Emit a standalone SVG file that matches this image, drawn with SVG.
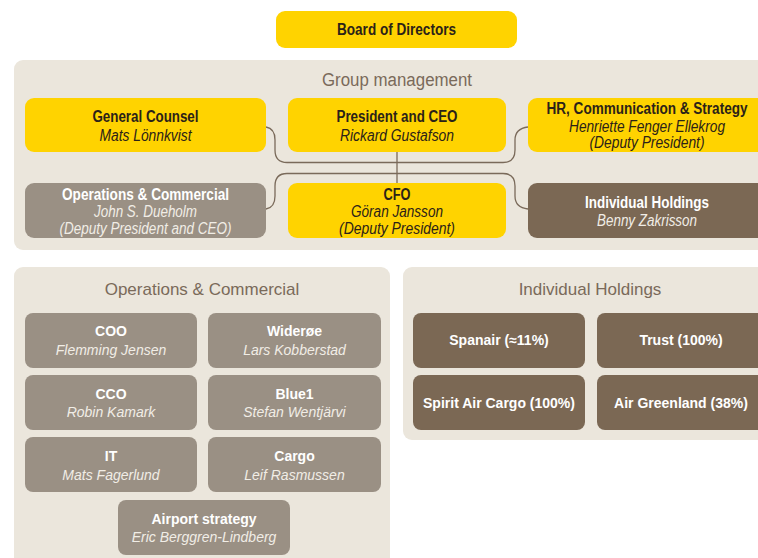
<svg xmlns="http://www.w3.org/2000/svg" width="758" height="558" viewBox="0 0 758 558">
<style>
.panel{fill:#EBE6DC}
.y{fill:#FFD300}
.g{fill:#9A9084}
.d{fill:#7B6854}
.ptitle{font-family:"Liberation Sans",Arial,sans-serif;font-size:18px;fill:#7A6A5A;text-anchor:middle}
.ptitle2{font-family:"Liberation Sans",Arial,sans-serif;font-size:17px;fill:#7A6A5A;text-anchor:middle}
.cb{font-family:"Liberation Sans",Arial,sans-serif;font-size:16px;font-weight:bold;text-anchor:middle}
.ci{font-family:"Liberation Sans",Arial,sans-serif;font-size:16px;font-style:italic;text-anchor:middle}
.nb{font-family:"Liberation Sans",Arial,sans-serif;font-size:14px;font-weight:bold;text-anchor:middle}
.ni{font-family:"Liberation Sans",Arial,sans-serif;font-size:14px;font-style:italic;text-anchor:middle}
.dk{fill:#2B2218}
.wt{fill:#FFFFFF}
.lt{fill:#F1EDE6}
.conn{fill:none;stroke:#7A6A5A;stroke-width:1.3}
</style>
<rect width="758" height="558" fill="#FFFFFF"/>
<g id="board">
<rect class="y" x="276" y="11" width="241" height="37" rx="9"/>
<text class="cb dk" x="396.5" y="34.5" textLength="119" lengthAdjust="spacingAndGlyphs">Board of Directors</text>
</g>
<g id="group-management">
<rect class="panel" x="14" y="60" width="770" height="190" rx="9"/>
<text class="ptitle" x="397" y="86" textLength="150" lengthAdjust="spacingAndGlyphs">Group management</text>
</g>
<g id="connectors">
<path class="conn" d="M266,127 C272,128 275,132 275,140 L275,150 Q275,162.5 287,162.5 L503,162.5 Q515,162.5 515,150 L515,140 C515,132 519,128 528,127"/>
<path class="conn" d="M266,209 C272,208 275,204 275,196 L275,186 Q275,173.5 287,173.5 L503,173.5 Q515,173.5 515,186 L515,196 C515,204 519,208 528,209"/>
<path class="conn" d="M397,152 V183"/>
</g>
<g id="general-counsel">
<rect class="y" x="25" y="98" width="241" height="54" rx="9"/>
<text class="cb dk" x="145.5" y="121.5" textLength="106" lengthAdjust="spacingAndGlyphs">General Counsel</text>
<text class="ci dk" x="145.5" y="140.5" textLength="92" lengthAdjust="spacingAndGlyphs">Mats Lönnkvist</text>
</g>
<g id="president-ceo">
<rect class="y" x="288" y="98" width="218" height="54" rx="9"/>
<text class="cb dk" x="397" y="121.5" textLength="121" lengthAdjust="spacingAndGlyphs">President and CEO</text>
<text class="ci dk" x="397" y="140.5" textLength="114" lengthAdjust="spacingAndGlyphs">Rickard Gustafson</text>
</g>
<g id="hr">
<rect class="y" x="528" y="98" width="240" height="54" rx="9"/>
<text class="cb dk" x="647" y="113.5" textLength="201" lengthAdjust="spacingAndGlyphs">HR, Communication &amp; Strategy</text>
<text class="ci dk" x="647" y="131.5" textLength="156" lengthAdjust="spacingAndGlyphs">Henriette Fenger Ellekrog</text>
<text class="ci dk" x="647" y="147.5" textLength="115" lengthAdjust="spacingAndGlyphs">(Deputy President)</text>
</g>
<g id="ops-commercial-head">
<rect class="g" x="25" y="183" width="241" height="55" rx="9"/>
<text class="cb wt" x="145.5" y="199.5" textLength="167" lengthAdjust="spacingAndGlyphs">Operations &amp; Commercial</text>
<text class="ci lt" x="145.5" y="216.5" textLength="103" lengthAdjust="spacingAndGlyphs">John S. Dueholm</text>
<text class="ci lt" x="145.5" y="233.5" textLength="172" lengthAdjust="spacingAndGlyphs">(Deputy President and CEO)</text>
</g>
<g id="cfo">
<rect class="y" x="288" y="183" width="218" height="55" rx="9"/>
<text class="cb dk" x="397" y="199.5" textLength="27" lengthAdjust="spacingAndGlyphs">CFO</text>
<text class="ci dk" x="397" y="216.5" textLength="92" lengthAdjust="spacingAndGlyphs">Göran Jansson</text>
<text class="ci dk" x="397" y="233.5" textLength="116" lengthAdjust="spacingAndGlyphs">(Deputy President)</text>
</g>
<g id="individual-holdings-head">
<rect class="d" x="528" y="183" width="240" height="55" rx="9"/>
<text class="cb wt" x="647" y="207.5" textLength="124" lengthAdjust="spacingAndGlyphs">Individual Holdings</text>
<text class="ci lt" x="647" y="225.5" textLength="100" lengthAdjust="spacingAndGlyphs">Benny Zakrisson</text>
</g>
<g id="ops-panel">
<rect class="panel" x="14" y="267" width="376" height="300" rx="9"/>
<text class="ptitle2" x="202" y="295">Operations &amp; Commercial</text>
</g>
<g id="coo">
<rect class="g" x="25" y="313" width="172" height="55" rx="8"/>
<text class="nb wt" x="111" y="336">COO</text>
<text class="ni lt" x="111" y="355">Flemming Jensen</text>
</g>
<g id="wideroe">
<rect class="g" x="208" y="313" width="173" height="55" rx="8"/>
<text class="nb wt" x="294.5" y="336">Widerøe</text>
<text class="ni lt" x="294.5" y="355">Lars Kobberstad</text>
</g>
<g id="cco">
<rect class="g" x="25" y="375" width="172" height="55" rx="8"/>
<text class="nb wt" x="111" y="399">CCO</text>
<text class="ni lt" x="111" y="417">Robin Kamark</text>
</g>
<g id="blue1">
<rect class="g" x="208" y="375" width="173" height="55" rx="8"/>
<text class="nb wt" x="294.5" y="399">Blue1</text>
<text class="ni lt" x="294.5" y="417">Stefan Wentjärvi</text>
</g>
<g id="it">
<rect class="g" x="25" y="437" width="172" height="55" rx="8"/>
<text class="nb wt" x="111" y="461">IT</text>
<text class="ni lt" x="111" y="480">Mats Fagerlund</text>
</g>
<g id="cargo">
<rect class="g" x="208" y="437" width="173" height="55" rx="8"/>
<text class="nb wt" x="294.5" y="461">Cargo</text>
<text class="ni lt" x="294.5" y="480">Leif Rasmussen</text>
</g>
<g id="airport-strategy">
<rect class="g" x="118" y="500" width="172" height="55" rx="8"/>
<text class="nb wt" x="204" y="524">Airport strategy</text>
<text class="ni lt" x="204" y="542">Eric Berggren-Lindberg</text>
</g>
<g id="ih-panel">
<rect class="panel" x="403" y="267" width="380" height="173" rx="9"/>
<text class="ptitle2" x="590" y="295">Individual Holdings</text>
</g>
<g id="spanair">
<rect class="d" x="413" y="313" width="172" height="55" rx="8"/>
<text class="nb wt" x="499" y="345">Spanair (≈11%)</text>
</g>
<g id="trust">
<rect class="d" x="597" y="313" width="170" height="55" rx="8"/>
<text class="nb wt" x="681" y="345">Trust (100%)</text>
</g>
<g id="spirit">
<rect class="d" x="413" y="375" width="172" height="55" rx="8"/>
<text class="nb wt" x="499" y="408">Spirit Air Cargo (100%)</text>
</g>
<g id="air-greenland">
<rect class="d" x="597" y="375" width="170" height="55" rx="8"/>
<text class="nb wt" x="681" y="408">Air Greenland (38%)</text>
</g>
</svg>
